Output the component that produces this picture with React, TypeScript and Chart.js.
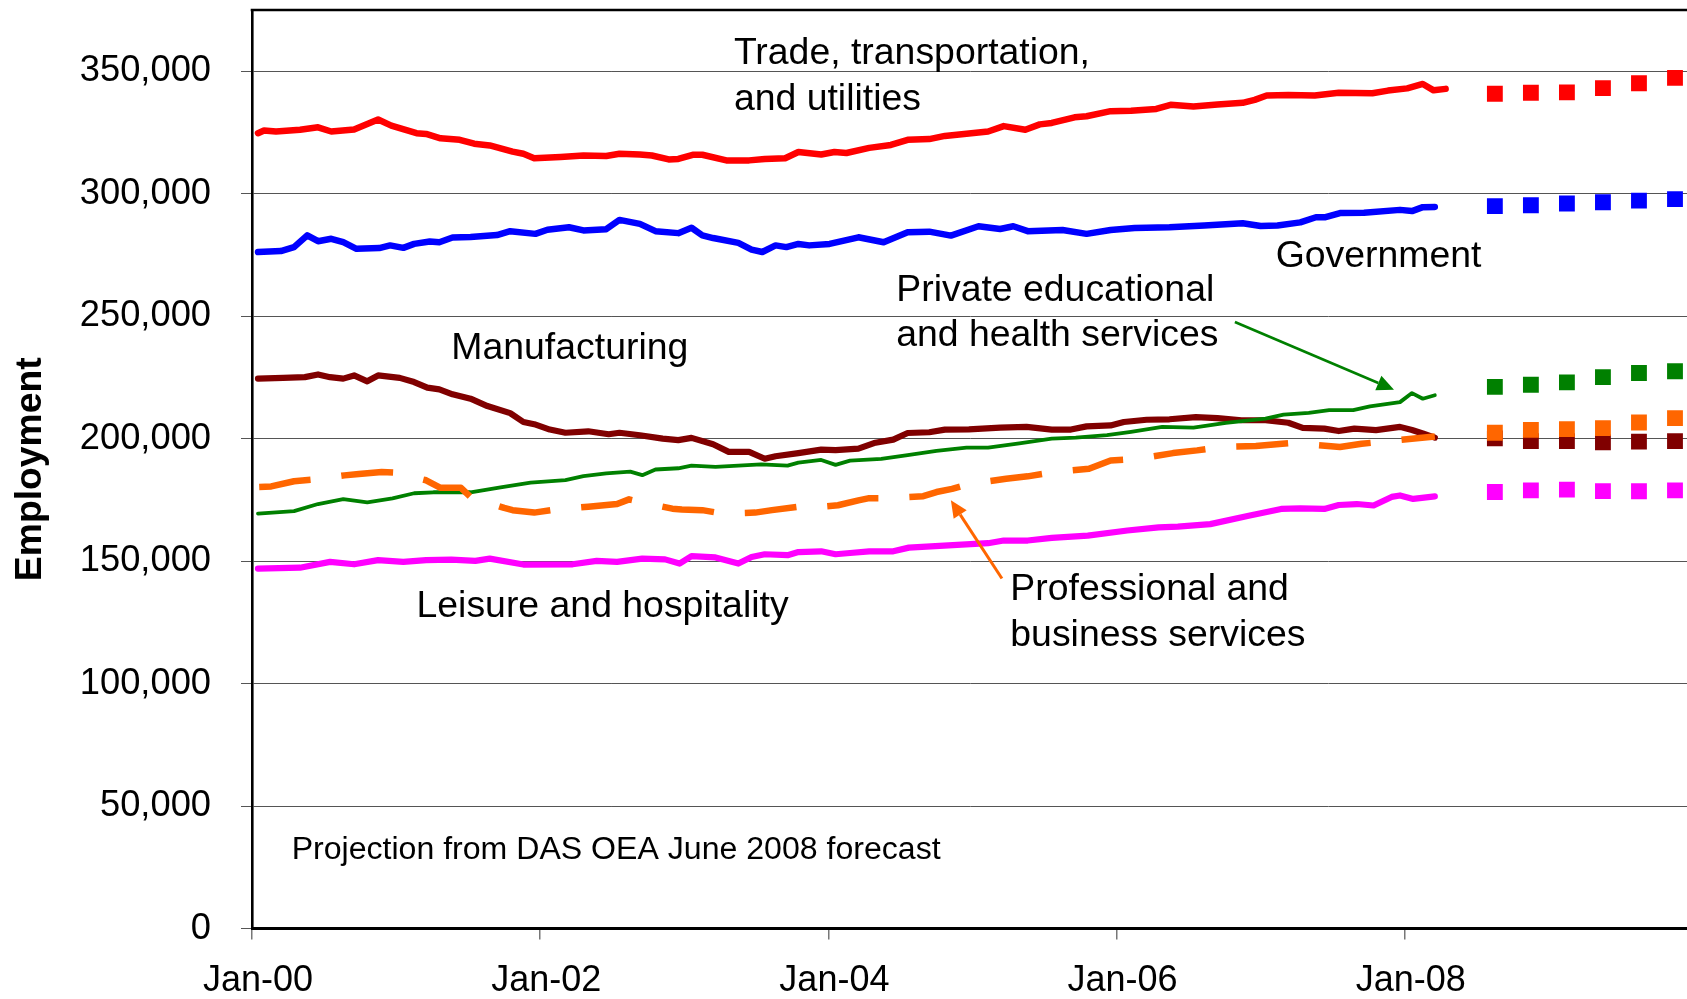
import React, { useEffect, useRef } from 'react';
import { Chart, registerables } from 'chart.js';

Chart.register(...registerables);

const FONT = '"Liberation Sans", Arial, Helvetica, sans-serif';

// ---- axes ----
const xTickMonths = [0, 24, 48, 72, 96]; // months since Jan 2000
const xTickLabels = ['Jan-00', 'Jan-02', 'Jan-04', 'Jan-06', 'Jan-08'];
const yTickValues = [0, 50000, 100000, 150000, 200000, 250000, 300000, 350000];

// ---- historical series: [month since Jan-2000, employment] ----
const trade: [number, number][] = [
  [0.5, 324700], [1, 325800], [2, 325400], [4, 326100], [5.5, 327100], [6.6, 325400], [8.5, 326200],
  [10.5, 330300], [11.6, 327800], [13.7, 324700], [14.5, 324400], [15.7, 322600], [17.3, 322000],
  [18.5, 320400], [19.8, 319700], [21.7, 317200], [22.6, 316300], [23.5, 314500], [25.7, 315000],
  [27.6, 315600], [29.5, 315400], [30.6, 316300], [32.3, 316000], [33.3, 315600], [34.7, 314000],
  [35.5, 314200], [36.7, 315900], [37.5, 315900], [39.5, 313600], [41.4, 313600], [42.7, 314200],
  [44.4, 314500], [45.5, 317000], [47.4, 316000], [48.5, 317000], [49.5, 316600], [51.4, 318700],
  [53.2, 319900], [54.6, 322000], [56.4, 322300], [57.7, 323600], [59.5, 324500], [61.3, 325400],
  [62.6, 327600], [64.4, 326100], [65.6, 328300], [66.6, 328900], [68.5, 331200], [69.5, 331600],
  [71.5, 333700], [73.2, 333900], [75.3, 334600], [76.5, 336300], [78.4, 335600], [80.4, 336400],
  [82.5, 337100], [83.5, 338300], [84.5, 340100], [86.3, 340300], [88.5, 340100], [90.5, 341200],
  [93.3, 341000], [94.6, 342100], [96.2, 343000], [97.5, 344800], [98.4, 342200], [99.4, 342800],
];

const government: [number, number][] = [
  [0.5, 276200], [2.4, 276600], [3.5, 278200], [4.6, 283000], [5.5, 280600], [6.6, 281600], [7.6, 280200],
  [8.7, 277500], [10.6, 277800], [11.5, 278900], [12.6, 277900], [13.5, 279500], [14.8, 280500],
  [15.6, 280200], [16.7, 282100], [18.2, 282300], [20.4, 283100], [21.5, 284700], [23.6, 283600],
  [24.6, 285300], [26.4, 286300], [27.6, 285000], [29.5, 285500], [30.6, 289300], [32.3, 287700],
  [33.6, 284700], [35.5, 283900], [36.6, 286100], [37.5, 283000], [38.4, 281900], [40.5, 279900],
  [41.6, 277200], [42.5, 276200], [43.6, 278900], [44.5, 278200], [45.5, 279500], [46.4, 278900],
  [48.1, 279500], [50.5, 282200], [52.6, 280200], [54.6, 284300], [56.4, 284500], [58.2, 282900],
  [60.5, 286700], [62.3, 285600], [63.4, 286700], [64.6, 284700], [67.5, 285200], [69.5, 283600],
  [71.5, 285200], [73.5, 286000], [76.4, 286300], [79.3, 287000], [82.5, 287900], [84.0, 286800],
  [85.4, 287000], [87.3, 288300], [88.6, 290400], [89.4, 290400], [90.6, 292100], [92.6, 292200],
  [95.6, 293400], [96.6, 292900], [97.5, 294500], [98.5, 294600],
];

const manufacturing: [number, number][] = [
  [0.5, 224500], [2.6, 224800], [4.4, 225100], [5.5, 226200], [6.5, 225100], [7.6, 224500], [8.5, 225800],
  [9.6, 223400], [10.5, 225800], [12.3, 224800], [13.5, 223100], [14.6, 220800], [15.6, 220100],
  [16.7, 218100], [18.2, 216300], [19.6, 213300], [21.5, 210400], [22.6, 206800], [23.5, 205900],
  [24.8, 203700], [26.1, 202400], [28.0, 203000], [29.7, 201800], [30.6, 202400], [32.3, 201400],
  [34.2, 200000], [35.5, 199400], [36.6, 200300], [38.4, 197700], [39.7, 194600], [41.4, 194600],
  [42.7, 191800], [43.6, 192800], [45.5, 194100], [47.4, 195500], [48.6, 195300], [50.5, 195900],
  [51.8, 198200], [53.4, 199600], [54.6, 202300], [56.4, 202600], [57.7, 203700], [59.7, 203800],
  [62.3, 204500], [64.5, 204800], [66.6, 203700], [68.2, 203700], [69.5, 205000], [71.5, 205400],
  [72.6, 206800], [74.5, 207700], [76.4, 207900], [78.6, 208800], [80.4, 208400], [82.4, 207500],
  [84.4, 207500], [86.3, 206500], [87.5, 204400], [89.3, 204100], [90.5, 203100], [91.8, 204100],
  [93.6, 203500], [95.6, 204800], [96.6, 203500], [97.5, 202100], [98.5, 200400],
];

const health: [number, number][] = [
  [0.5, 169400], [3.5, 170400], [5.5, 173300], [7.6, 175300], [9.6, 174000], [11.7, 175600],
  [13.5, 177700], [15.1, 178100], [18.2, 178100], [20.7, 180100], [23.2, 182000], [26.1, 183100],
  [27.6, 184700], [29.5, 185800], [31.5, 186500], [32.5, 185100], [33.6, 187400], [35.5, 187900],
  [36.6, 189000], [38.6, 188500], [42.4, 189500], [44.6, 189000], [45.5, 190200], [47.4, 191300],
  [48.6, 189300], [49.8, 191000], [52.4, 191700], [54.6, 193300], [57.0, 195000], [59.5, 196300],
  [61.3, 196300], [63.9, 198100], [66.6, 200000], [68.6, 200400], [71.2, 201400], [73.2, 202800],
  [75.8, 204800], [78.4, 204500], [81.1, 206400], [84.4, 208200], [85.9, 209800], [88.0, 210500],
  [89.7, 211600], [91.7, 211600], [93.1, 213200], [95.6, 214900], [96.6, 218600], [97.5, 216300],
  [98.5, 217700],
];

const professional: [number, number][] = [
  [0.6, 180300], [1.6, 180500], [3.5, 182600], [4.9, 183200], [7.7, 185000], [8.9, 185600],
  [10.8, 186400], [12.0, 186100], [14.5, 183000], [15.7, 179900], [17.4, 179900], [18.2, 176200],
  [21.0, 171700], [21.7, 170800], [23.5, 169800], [25.3, 171100], [28.0, 172200], [30.4, 173300],
  [31.4, 175200], [32.2, 174300], [35.0, 171400], [35.8, 171100], [37.5, 170800], [39.2, 169400],
  [41.9, 169800], [43.3, 170800], [45.5, 172200], [46.1, 171700], [48.8, 172800], [50.5, 174800],
  [51.4, 175700], [53.1, 175700], [55.9, 176500], [57.0, 178200], [58.3, 179500], [59.8, 181600],
  [62.8, 183600], [64.6, 184600], [66.9, 186400], [69.7, 187700], [71.5, 191100], [73.8, 191800],
  [76.7, 194100], [78.7, 195200], [80.8, 196600], [83.6, 197000], [86.5, 198200], [87.8, 197700],
  [90.6, 196600], [92.4, 197900], [94.7, 199000], [98.5, 200900],
];

const leisure: [number, number][] = [
  [0.5, 146900], [4.0, 147300], [6.5, 149700], [8.5, 148700], [10.5, 150400], [12.6, 149700],
  [14.5, 150400], [16.6, 150600], [18.6, 150100], [19.8, 151000], [22.6, 148600], [26.7, 148700],
  [28.7, 150100], [30.4, 149700], [32.5, 151000], [34.4, 150700], [35.6, 149000], [36.6, 152000],
  [38.6, 151500], [40.5, 149000], [41.6, 151700], [42.7, 152800], [44.6, 152400], [45.5, 153700],
  [47.4, 154000], [48.6, 152800], [49.8, 153300], [51.4, 154000], [53.4, 154000], [54.7, 155500],
  [58.0, 156400], [61.3, 157300], [62.6, 158400], [64.6, 158400], [66.6, 159500], [69.6, 160400],
  [72.9, 162500], [75.5, 163800], [77.1, 164100], [79.8, 165100], [83.0, 168500], [85.7, 171300],
  [87.3, 171500], [89.3, 171300], [90.5, 172900], [92.0, 173300], [93.4, 172700], [94.9, 176200],
  [95.6, 176800], [96.7, 175400], [98.5, 176400],
];

// ---- projections (DAS OEA June 2008 forecast), quarterly ----
const projectionMonths = [103.5, 106.5, 109.5, 112.5, 115.5, 118.5];
const tradeProj = [340800, 341200, 341400, 343100, 345100, 347300];
const governmentProj = [294900, 295300, 296000, 296500, 297200, 297800];
const healthProj = [221100, 222000, 223000, 225100, 226800, 227500];
const professionalProj = [202400, 203600, 203900, 204300, 206600, 208400];
const manufacturingProj = [200100, 199000, 199000, 198500, 198800, 199000];
const leisureProj = [178200, 178900, 179200, 178600, 178500, 178900];

// ---- annotations (placed in data units) ----
const textLabels = [
  { text: 'Trade, transportation,', month: 40.13, value: 353000, size: 37.4 },
  { text: 'and utilities', month: 40.13, value: 334200, size: 37.4 },
  { text: 'Government', month: 85.25, value: 270000, size: 37.4 },
  { text: 'Private educational', month: 53.65, value: 256000, size: 37.4 },
  { text: 'and health services', month: 53.65, value: 237700, size: 37.4 },
  { text: 'Manufacturing', month: 16.6, value: 232600, size: 37.4 },
  { text: 'Leisure and hospitality', month: 13.7, value: 127100, size: 37.4 },
  { text: 'Professional and', month: 63.15, value: 134000, size: 37.4 },
  { text: 'business services', month: 63.15, value: 115500, size: 37.4 },
  { text: 'Projection from DAS OEA June 2008 forecast', month: 3.3, value: 28400, size: 32.1 },
];

const arrows = [
  { from: [81.85, 247600], to: [95.1, 220000], color: '#008000', width: 2.6 },
  { from: [62.45, 142900], to: [58.2, 174800], color: '#FF6600', width: 3 },
];

const toXY = (pts: [number, number][]) => pts.map(([x, y]) => ({ x, y }));
const projXY = (vals: number[]) => vals.map((v, i) => ({ x: projectionMonths[i], y: v }));

const lineDs = (label: string, pts: [number, number][], color: string, width: number, dash?: number[]) => ({
  label,
  data: toXY(pts),
  showLine: true,
  borderColor: color,
  backgroundColor: color,
  borderWidth: width,
  pointRadius: 0,
  pointHoverRadius: 0,
  tension: 0,
  borderCapStyle: dash ? 'butt' : 'round',
  borderJoinStyle: 'round',
  borderDash: dash || [],
});

const projDs = (label: string, vals: number[], color: string) => ({
  label,
  data: projXY(vals),
  showLine: false,
  pointStyle: 'rect',
  pointRadius: 11.2,
  pointHoverRadius: 11.2,
  pointBorderWidth: 0,
  pointBackgroundColor: color,
  pointBorderColor: color,
  backgroundColor: color,
  borderColor: color,
});

const overlayPlugin = {
  id: 'overlay',
  afterDatasetsDraw(chart: any) {
    const { ctx, chartArea, scales } = chart;
    const xs = scales.x;
    const ys = scales.y;
    ctx.save();
    // top frame line
    ctx.strokeStyle = '#000';
    ctx.lineWidth = 2.6;
    ctx.beginPath();
    ctx.moveTo(chartArea.left - 1.3, chartArea.top);
    ctx.lineTo(chartArea.right, chartArea.top);
    ctx.stroke();

    // arrows
    for (const a of arrows) {
      const x1 = xs.getPixelForValue(a.from[0]);
      const y1 = ys.getPixelForValue(a.from[1]);
      const x2 = xs.getPixelForValue(a.to[0]);
      const y2 = ys.getPixelForValue(a.to[1]);
      const ang = Math.atan2(y2 - y1, x2 - x1);
      const headLen = 17;
      const headHalf = 7.8;
      const bx = x2 - headLen * Math.cos(ang);
      const by = y2 - headLen * Math.sin(ang);
      ctx.strokeStyle = a.color;
      ctx.fillStyle = a.color;
      ctx.lineWidth = a.width;
      ctx.lineCap = 'butt';
      ctx.beginPath();
      ctx.moveTo(x1, y1);
      ctx.lineTo(bx, by);
      ctx.stroke();
      ctx.beginPath();
      ctx.moveTo(x2, y2);
      ctx.lineTo(bx + headHalf * Math.sin(ang), by - headHalf * Math.cos(ang));
      ctx.lineTo(bx - headHalf * Math.sin(ang), by + headHalf * Math.cos(ang));
      ctx.closePath();
      ctx.fill();
    }

    // text labels
    ctx.fillStyle = '#000';
    ctx.textAlign = 'left';
    ctx.textBaseline = 'alphabetic';
    for (const t of textLabels) {
      ctx.font = `${t.size}px ${FONT}`;
      ctx.fillText(t.text, xs.getPixelForValue(t.month), ys.getPixelForValue(t.value));
    }
    ctx.restore();
  },
};

const zeroPadding = (scale: any) => {
  scale.paddingTop = 0;
  scale.paddingBottom = 0;
  scale.paddingLeft = 0;
  scale.paddingRight = 0;
};

export default function App() {
  const canvasRef = useRef<HTMLCanvasElement | null>(null);

  useEffect(() => {
    document.body.style.margin = '0';
    const canvas = canvasRef.current;
    if (!canvas) return;
    const chart = new Chart(canvas, {
      type: 'scatter',
      data: {
        datasets: [
          projDs('Professional proj', professionalProj, '#FF6600'),
          lineDs('Professional and business services', professional, '#FF6600', 6.5, [52, 31]),
          projDs('Health proj', healthProj, '#008000'),
          lineDs('Private educational and health services', health, '#008000', 3.8),
          projDs('Manufacturing proj', manufacturingProj, '#800000'),
          lineDs('Manufacturing', manufacturing, '#800000', 6.2),
          projDs('Leisure proj', leisureProj, '#FF00FF'),
          lineDs('Leisure and hospitality', leisure, '#FF00FF', 6.2),
          projDs('Government proj', governmentProj, '#0000FF'),
          lineDs('Government', government, '#0000FF', 6.5),
          projDs('Trade proj', tradeProj, '#FF0000'),
          lineDs('Trade, transportation, and utilities', trade, '#FF0000', 6.5),
        ] as any,
      },
      options: {
        responsive: false,
        animation: false,
        devicePixelRatio: 1,
        layout: { autoPadding: false, padding: { top: 10, right: 0, bottom: 0, left: 0 } },
        plugins: {
          legend: { display: false },
          tooltip: { enabled: false },
          title: { display: false },
        },
        events: [],
        scales: {
          x: {
            type: 'linear',
            min: 0,
            max: 119.5,
            afterBuildTicks: (scale: any) => {
              scale.ticks = xTickMonths.map((v) => ({ value: v }));
            },
            afterFit: (scale: any) => {
              scale.height = 70.5;
              zeroPadding(scale);
            },
            ticks: {
              autoSkip: false,
              maxRotation: 0,
              minRotation: 0,
              padding: 20,
              labelOffset: 6,
              color: '#000',
              font: { family: FONT, size: 36 },
              callback: (v: any) => {
                const i = xTickMonths.indexOf(Number(v));
                return i >= 0 ? xTickLabels[i] : '';
              },
            },
            grid: {
              display: true,
              drawOnChartArea: false,
              drawTicks: true,
              tickLength: 11,
              color: '#777',
              lineWidth: 1.5,
            },
            border: { display: true, color: '#000', width: 3 },
          },
          y: {
            type: 'linear',
            min: 0,
            max: 375000,
            afterBuildTicks: (scale: any) => {
              scale.ticks = yTickValues.map((v) => ({ value: v }));
            },
            afterFit: (scale: any) => {
              scale.width = 252;
              zeroPadding(scale);
            },
            ticks: {
              padding: 30,
              color: '#000',
              font: { family: FONT, size: 36.3 },
              callback: (v: any) => Number(v).toLocaleString('en-US'),
            },
            grid: {
              display: true,
              drawOnChartArea: true,
              drawTicks: true,
              tickLength: 11,
              color: '#555',
              lineWidth: 1,
            },
            border: { display: true, color: '#000', width: 2.6 },
            title: {
              display: true,
              text: 'Employment',
              color: '#000',
              font: { family: FONT, size: 37.3, weight: 'bold' },
              padding: { top: 8, bottom: 0 },
            },
          },
        },
      } as any,
      plugins: [overlayPlugin],
    });
    return () => {
      chart.destroy();
    };
  }, []);

  return (
    <div style={{ position: 'absolute', left: 0, top: 0, width: 1687, height: 999, background: '#fff' }}>
      <canvas ref={canvasRef} width={1687} height={999} style={{ display: 'block', width: 1687, height: 999 }} />
    </div>
  );
}
